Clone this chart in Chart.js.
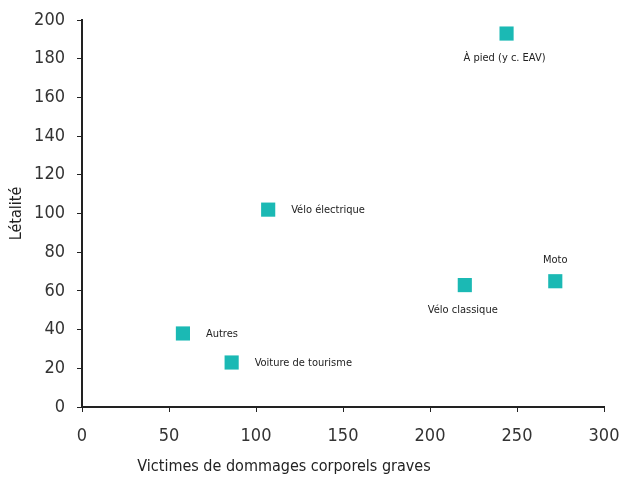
<!DOCTYPE html>
<html>
<head>
<meta charset="utf-8">
<script src="https://cdn.jsdelivr.net/npm/chart.js@4"></script>
<style>
  html, body { margin: 0; padding: 0; background: #fff; }
  #wrap { width: 628px; height: 479px; }
</style>
</head>
<body>
<div id="wrap"><canvas id="c" width="628" height="479"></canvas></div>
<script>
// Data
const categories = ['À pied (y c. EAV)', 'Vélo électrique', 'Moto', 'Vélo classique', 'Autres', 'Voiture de tourisme'];
const victims = [244, 107, 272, 220, 58, 86];
const lethality = [193, 102, 65, 63, 38, 23];
const labelSide = ['below', 'right', 'above', 'below', 'right', 'right'];

const xTicks = [0, 50, 100, 150, 200, 250, 300];
const yTicks = [0, 20, 40, 60, 80, 100, 120, 140, 160, 180, 200];

const FONT = '"Liberation Sans Narrow", "DejaVu Sans Condensed", "Roboto", sans-serif';
const TEAL = '#1bb9b4';

// Draw the category label next to each point
const pointLabels = {
  id: 'pointLabels',
  afterDatasetsDraw(chart) {
    const { ctx } = chart;
    const meta = chart.getDatasetMeta(0);
    ctx.save();
    ctx.font = '11px ' + FONT;
    ctx.fillStyle = '#222';
    ctx.textBaseline = 'middle';
    meta.data.forEach((pt, i) => {
      const side = labelSide[i];
      if (side === 'right') {
        ctx.textAlign = 'left';
        ctx.fillText(categories[i], pt.x + 23, pt.y + 1);
      } else if (side === 'above') {
        ctx.textAlign = 'center';
        ctx.fillText(categories[i], pt.x, pt.y - 21);
      } else {
        ctx.textAlign = 'center';
        ctx.fillText(categories[i], pt.x - 2, pt.y + 25);
      }
    });
    ctx.restore();
  },
};

// Axis titles, x title is not centered on the plot in the reference
const axisTitles = {
  id: 'axisTitles',
  afterDraw(chart) {
    const { ctx, chartArea } = chart;
    ctx.save();
    ctx.font = '16px ' + FONT;
    ctx.fillStyle = '#222';
    ctx.textAlign = 'center';
    ctx.textBaseline = 'middle';
    ctx.fillText('Victimes de dommages corporels graves', 284, 467);
    ctx.translate(17, (chartArea.top + chartArea.bottom) / 2);
    ctx.rotate(-Math.PI / 2);
    ctx.fillText('Létalité', 0, 0);
    ctx.restore();
  },
};

new Chart(document.getElementById('c'), {
  type: 'scatter',
  data: {
    datasets: [
      {
        data: victims.map((v, i) => ({ x: v, y: lethality[i] })),
        pointStyle: 'rect',
        pointRadius: 10,
        pointHoverRadius: 10,
        backgroundColor: TEAL,
        borderColor: TEAL,
        borderWidth: 0,
      },
    ],
  },
  options: {
    responsive: false,
    animation: false,
    layout: { padding: { top: 20, right: 24, left: 0, bottom: 0 } },
    plugins: {
      legend: { display: false },
      tooltip: { enabled: false },
    },
    scales: {
      x: {
        type: 'linear',
        min: 0,
        max: 300,
        afterBuildTicks: scale => { scale.ticks = xTicks.map(v => ({ value: v })); },
        afterFit: scale => {
          scale.height = 72;
          scale.paddingLeft = 0;
          scale.paddingRight = 0;
        },
        grid: { drawOnChartArea: false, drawTicks: true, tickLength: 5, color: '#222' },
        border: { color: '#222', width: 2 },
        ticks: { color: '#333', padding: 14, font: { family: FONT, size: 18 } },
      },
      y: {
        type: 'linear',
        min: 0,
        max: 200,
        afterBuildTicks: scale => { scale.ticks = yTicks.map(v => ({ value: v })); },
        afterFit: scale => {
          scale.width = 82;
          scale.paddingTop = 0;
          scale.paddingBottom = 0;
        },
        grid: { drawOnChartArea: false, drawTicks: true, tickLength: 5, color: '#222' },
        border: { color: '#222', width: 2 },
        ticks: { color: '#333', padding: 12, font: { family: FONT, size: 18 } },
      },
    },
  },
  plugins: [pointLabels, axisTitles],
});
</script>
</body>
</html>
